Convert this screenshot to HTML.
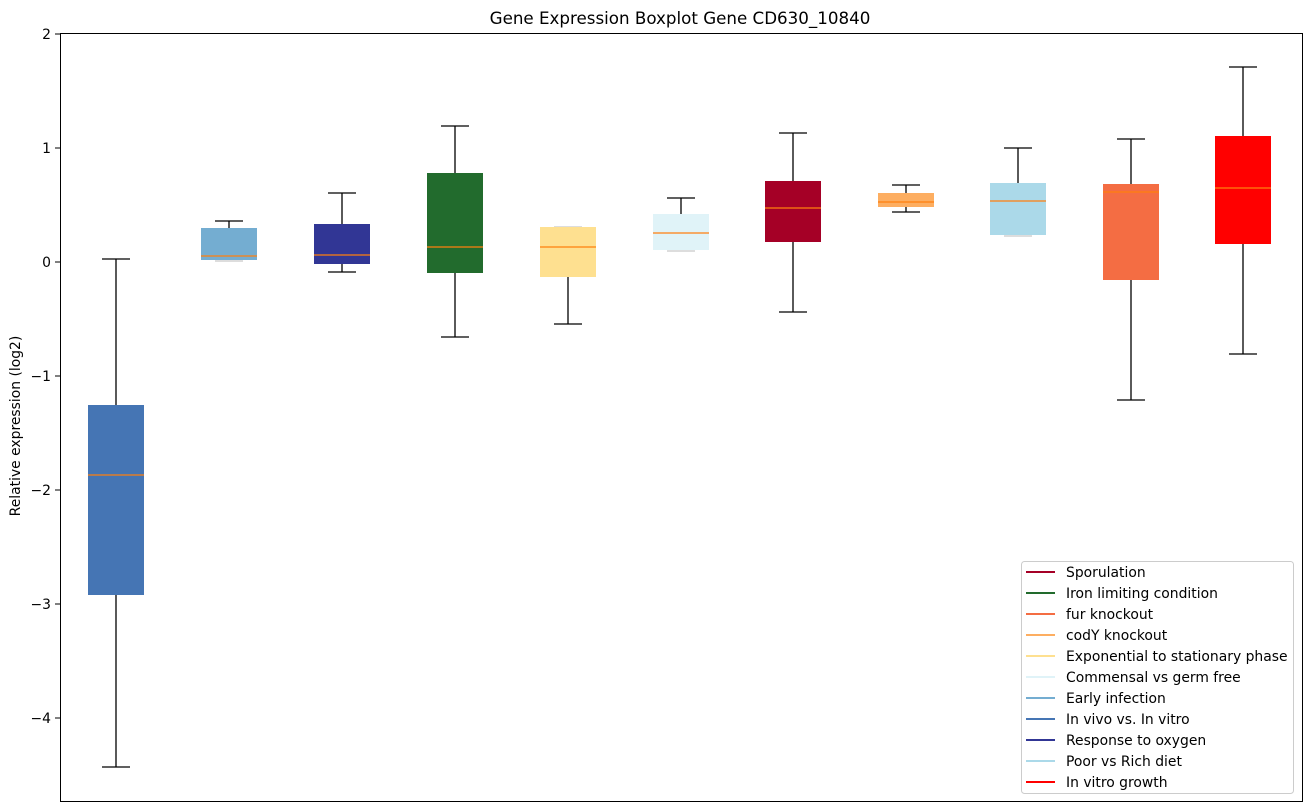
<!DOCTYPE html>
<html><head><style>body{margin:0;background:#fff}svg{display:block;font-family:"DejaVu Sans","Liberation Sans",sans-serif}</style></head>
<body>
<svg width="1309" height="812" viewBox="0 0 1309 812" xmlns="http://www.w3.org/2000/svg">
<rect width="1309" height="812" fill="#fff"/>
<text x="680" y="24" font-size="16.7" text-anchor="middle" fill="#000">Gene Expression Boxplot Gene CD630_10840</text>
<g stroke="#000" stroke-width="1.3">
<line x1="116" y1="259" x2="116" y2="405"/><line x1="116" y1="595" x2="116" y2="767"/><line x1="102" y1="259" x2="130" y2="259"/><line x1="102" y1="767" x2="130" y2="767"/>
<line x1="229" y1="221" x2="229" y2="228"/><line x1="215" y1="221" x2="243" y2="221"/>
<line x1="342" y1="193" x2="342" y2="224"/><line x1="342" y1="264" x2="342" y2="272"/><line x1="328" y1="193" x2="356" y2="193"/><line x1="328" y1="272" x2="356" y2="272"/>
<line x1="455" y1="126" x2="455" y2="173"/><line x1="455" y1="273" x2="455" y2="337"/><line x1="441" y1="126" x2="469" y2="126"/><line x1="441" y1="337" x2="469" y2="337"/>
<line x1="568" y1="277" x2="568" y2="324"/><line x1="554" y1="324" x2="582" y2="324"/>
<line x1="681" y1="198" x2="681" y2="214"/><line x1="667" y1="198" x2="695" y2="198"/>
<line x1="793" y1="133" x2="793" y2="181"/><line x1="793" y1="242" x2="793" y2="312"/><line x1="779" y1="133" x2="807" y2="133"/><line x1="779" y1="312" x2="807" y2="312"/>
<line x1="906" y1="185" x2="906" y2="193"/><line x1="906" y1="207" x2="906" y2="212"/><line x1="892" y1="185" x2="920" y2="185"/><line x1="892" y1="212" x2="920" y2="212"/>
<line x1="1018" y1="148" x2="1018" y2="183"/><line x1="1004" y1="148" x2="1032" y2="148"/>
<line x1="1131" y1="139" x2="1131" y2="184"/><line x1="1131" y1="280" x2="1131" y2="400"/><line x1="1117" y1="139" x2="1145" y2="139"/><line x1="1117" y1="400" x2="1145" y2="400"/>
<line x1="1243" y1="67" x2="1243" y2="136"/><line x1="1243" y1="244" x2="1243" y2="354"/><line x1="1229" y1="67" x2="1257" y2="67"/><line x1="1229" y1="354" x2="1257" y2="354"/>
</g>
<g stroke="#bbb" stroke-width="1"><line x1="215" y1="261" x2="243" y2="261"/><line x1="554" y1="227" x2="582" y2="227"/><line x1="667" y1="251" x2="695" y2="251"/><line x1="1004" y1="236" x2="1032" y2="236"/></g>
<g>
<rect x="88" y="405" width="56" height="190" fill="#4575b4"/>
<rect x="201" y="228" width="56" height="32" fill="#74add1"/>
<rect x="314" y="224" width="56" height="40" fill="#313695"/>
<rect x="427" y="173" width="56" height="100" fill="#226b2d"/>
<rect x="540" y="227" width="56" height="50" fill="#fee090"/>
<rect x="653" y="214" width="56" height="36" fill="#e0f3f8"/>
<rect x="765" y="181" width="56" height="61" fill="#a50026"/>
<rect x="878" y="193" width="56" height="14" fill="#fdae61"/>
<rect x="990" y="183" width="56" height="52" fill="#abd9e9"/>
<rect x="1103" y="184" width="56" height="96" fill="#f46d43"/>
<rect x="1215" y="136" width="56" height="108" fill="#ff0000"/>
</g>
<g stroke="#ff7f0e" stroke-width="1.2">
<line x1="88" y1="475" x2="144" y2="475"/><line x1="201" y1="256" x2="257" y2="256"/><line x1="314" y1="255" x2="370" y2="255"/><line x1="427" y1="247" x2="483" y2="247"/><line x1="540" y1="247" x2="596" y2="247"/><line x1="653" y1="233" x2="709" y2="233"/><line x1="765" y1="208" x2="821" y2="208"/><line x1="878" y1="202" x2="934" y2="202"/><line x1="990" y1="201" x2="1046" y2="201"/><line x1="1103" y1="192" x2="1159" y2="192"/><line x1="1215" y1="188" x2="1271" y2="188"/>
</g>
<rect x="60.5" y="33.5" width="1242" height="768" fill="none" stroke="#000" stroke-width="1"/>
<g stroke="#000" stroke-width="1"><line x1="55" y1="34" x2="60" y2="34"/><line x1="55" y1="148" x2="60" y2="148"/><line x1="55" y1="262" x2="60" y2="262"/><line x1="55" y1="376" x2="60" y2="376"/><line x1="55" y1="490" x2="60" y2="490"/><line x1="55" y1="604" x2="60" y2="604"/><line x1="55" y1="718" x2="60" y2="718"/></g>
<g font-size="13.9" text-anchor="end" fill="#000"><text x="51" y="39">2</text><text x="51" y="153">1</text><text x="51" y="267">0</text><text x="51" y="381">−1</text><text x="51" y="495">−2</text><text x="51" y="609">−3</text><text x="51" y="723">−4</text></g>
<text transform="translate(20,426) rotate(-90)" font-size="13.9" text-anchor="middle">Relative expression (log2)</text>
<rect x="1021.5" y="561.5" width="272" height="232" rx="3" fill="#fff" stroke="#ccc"/>
<g stroke-width="2"><line x1="1026" y1="572" x2="1055" y2="572" stroke="#a50026"/><line x1="1026" y1="593" x2="1055" y2="593" stroke="#226b2d"/><line x1="1026" y1="614" x2="1055" y2="614" stroke="#f46d43"/><line x1="1026" y1="635" x2="1055" y2="635" stroke="#fdae61"/><line x1="1026" y1="656" x2="1055" y2="656" stroke="#fee090"/><line x1="1026" y1="677" x2="1055" y2="677" stroke="#e0f3f8"/><line x1="1026" y1="698" x2="1055" y2="698" stroke="#74add1"/><line x1="1026" y1="719" x2="1055" y2="719" stroke="#4575b4"/><line x1="1026" y1="740" x2="1055" y2="740" stroke="#313695"/><line x1="1026" y1="761" x2="1055" y2="761" stroke="#abd9e9"/><line x1="1026" y1="782" x2="1055" y2="782" stroke="#ff0000"/></g>
<g font-size="13.9" fill="#000"><text x="1066" y="577">Sporulation</text><text x="1066" y="598">Iron limiting condition</text><text x="1066" y="619">fur knockout</text><text x="1066" y="640">codY knockout</text><text x="1066" y="661">Exponential to stationary phase</text><text x="1066" y="682">Commensal vs germ free</text><text x="1066" y="703">Early infection</text><text x="1066" y="724">In vivo vs. In vitro</text><text x="1066" y="745">Response to oxygen</text><text x="1066" y="766">Poor vs Rich diet</text><text x="1066" y="787">In vitro growth</text></g>
</svg>
</body></html>
